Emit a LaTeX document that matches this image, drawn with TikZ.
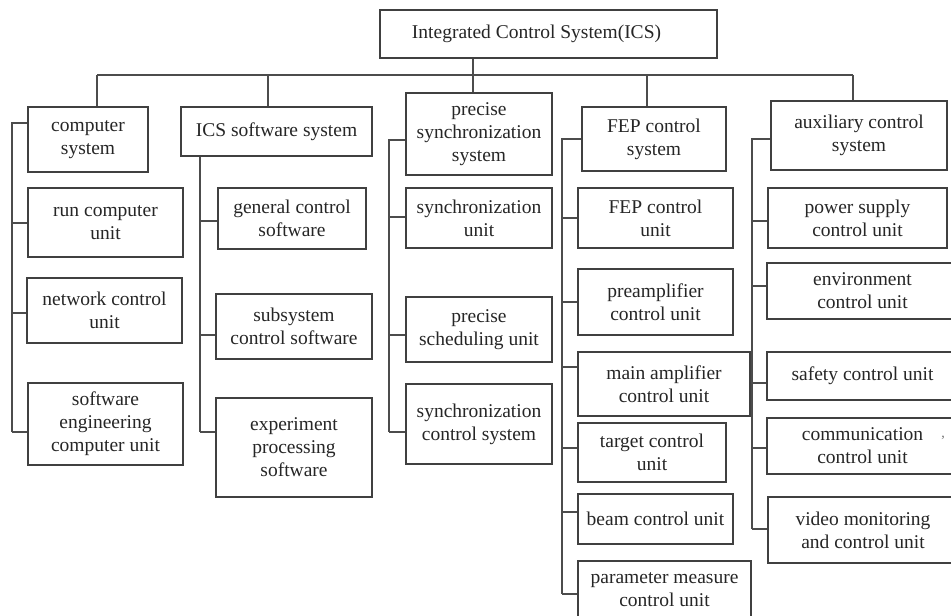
\documentclass[tikz,border=0pt]{standalone}
\usepackage{fontspec}
\setmainfont{Liberation Serif}
\tikzset{
  box/.style={draw=black!75, line width=1.4pt, inner sep=0pt, align=center, text=black!85, font=\fontsize{19.5}{23}\selectfont},
  conn/.style={draw=black!70, line width=1.3pt},
}
\newcommand\mybox[6]{\node[box, minimum width={(#3-#2)*1pt}, minimum height={(#5-#4)*1pt}] (#1) at ({(#2+#3)/2},{(#4+#5)/2}) {#6};}
\newcommand\mystub[3]{\coordinate (tmpy) at (#2,#3); \draw[conn] (tmpy) -- (#1.west |- tmpy);}
\begin{document}
\begin{tikzpicture}[x=1pt,y=-1pt]
\useasboundingbox (0,0) rectangle (951,616);
\clip (0,0) rectangle (951,616);
\fill[white] (0,0) rectangle (951,616);
% top
\mybox{top}{380}{717}{10}{58}{Integrated Control System(ICS)\hspace*{24pt}}
% level 1
\mybox{cs}{28}{148}{107}{172}{computer\\system}
\mybox{ics}{181}{372}{107}{156}{ICS software system}
\mybox{pss}{406}{552}{93}{175}{precise\\synchronization\\system}
\mybox{fep}{582}{726}{107}{171}{FEP control\\system}
\mybox{aux}{771}{947}{101}{170}{auxiliary control\\system}
% column 1
\mybox{rcu}{28}{183}{188}{257}{run computer\\unit}
\mybox{ncu}{27}{182}{278}{343}{network control\\unit}
\mybox{sec}{28}{183}{383}{465}{software\\engineering\\computer unit}
% column 2
\mybox{gcs}{218}{366}{188}{249}{general control\\software}
\mybox{scs}{216}{372}{294}{359}{subsystem\\control software}
\mybox{eps}{216}{372}{398}{497}{experiment\\processing\\software}
% column 3
\mybox{su}{406}{552}{188}{248}{synchronization\\unit}
\mybox{psu}{406}{552}{297}{362}{precise\\scheduling unit}
\mybox{scsys}{406}{552}{384}{464}{synchronization\\control system}
% column 4
\mybox{fcu}{578}{733}{188}{248}{FEP control\\unit}
\mybox{pcu}{578}{733}{269}{335}{preamplifier\\control unit}
\mybox{mcu}{578}{750}{352}{416}{main amplifier\\control unit}
\mybox{tcu}{578}{726}{423}{482}{target control\\unit}
\mybox{bcu}{578}{733}{494}{544}{beam control unit}
\mybox{pmc}{578}{751}{561}{618}{parameter measure\\control unit}
% column 5
\mybox{psc}{768}{947}{188}{248}{power supply\\control unit}
\mybox{ecu}{767}{958}{263}{319}{environment\\control unit}
\mybox{scu}{767}{958}{352}{400}{safety control unit}
\mybox{ccu}{767}{958}{418}{474}{communication\\control unit}
\mybox{vmc}{768}{958}{497}{563}{video monitoring\\and control unit}
\node[font=\fontsize{14}{16}\selectfont, text=black!55] (cm) at (943,438) {,};
% bus
\coordinate (s1) at (97,75);
\coordinate (s2) at (268,75);
\coordinate (s3) at (473,75);
\coordinate (s4) at (647,75);
\coordinate (s5) at (853,75);
\draw[conn] (top.south -| s3) -- (s3);
\draw[conn] (s1) -- (s5);
\draw[conn] (s1) -- (cs.north -| s1);
\draw[conn] (s2) -- (ics.north -| s2);
\draw[conn] (s3) -- (pss.north -| s3);
\draw[conn] (s4) -- (fep.north -| s4);
\draw[conn] (s5) -- (aux.north -| s5);
% column 1 rail
\coordinate (r1t) at (12,123); \coordinate (r1b) at (12,432);
\draw[conn] (cs.west |- r1t) -- (r1t) -- (r1b);
\mystub{rcu}{12}{223}
\mystub{ncu}{12}{313}
\mystub{sec}{12}{432}
% column 2 rail
\coordinate (r2t) at (200,156); \coordinate (r2b) at (200,432);
\draw[conn] (ics.south -| r2t) -- (r2b);
\mystub{gcs}{200}{221}
\mystub{scs}{200}{335}
\mystub{eps}{200}{432}
% column 3 rail
\coordinate (r3t) at (389,140); \coordinate (r3b) at (389,432);
\draw[conn] (pss.west |- r3t) -- (r3t) -- (r3b);
\mystub{su}{389}{217}
\mystub{psu}{389}{335}
\mystub{scsys}{389}{432}
% column 4 rail
\coordinate (r4t) at (562,139); \coordinate (r4b) at (562,594);
\draw[conn] (fep.west |- r4t) -- (r4t) -- (r4b);
\mystub{fcu}{562}{218}
\mystub{pcu}{562}{302}
\mystub{mcu}{562}{367}
\mystub{tcu}{562}{448}
\mystub{bcu}{562}{512}
\mystub{pmc}{562}{594}
% column 5 rail
\coordinate (r5t) at (752,139); \coordinate (r5b) at (752,529);
\draw[conn] (aux.west |- r5t) -- (r5t) -- (r5b);
\mystub{psc}{752}{221}
\mystub{ecu}{752}{286}
\mystub{scu}{752}{383}
\mystub{ccu}{752}{448}
\mystub{vmc}{752}{529}
\end{tikzpicture}
\end{document}
